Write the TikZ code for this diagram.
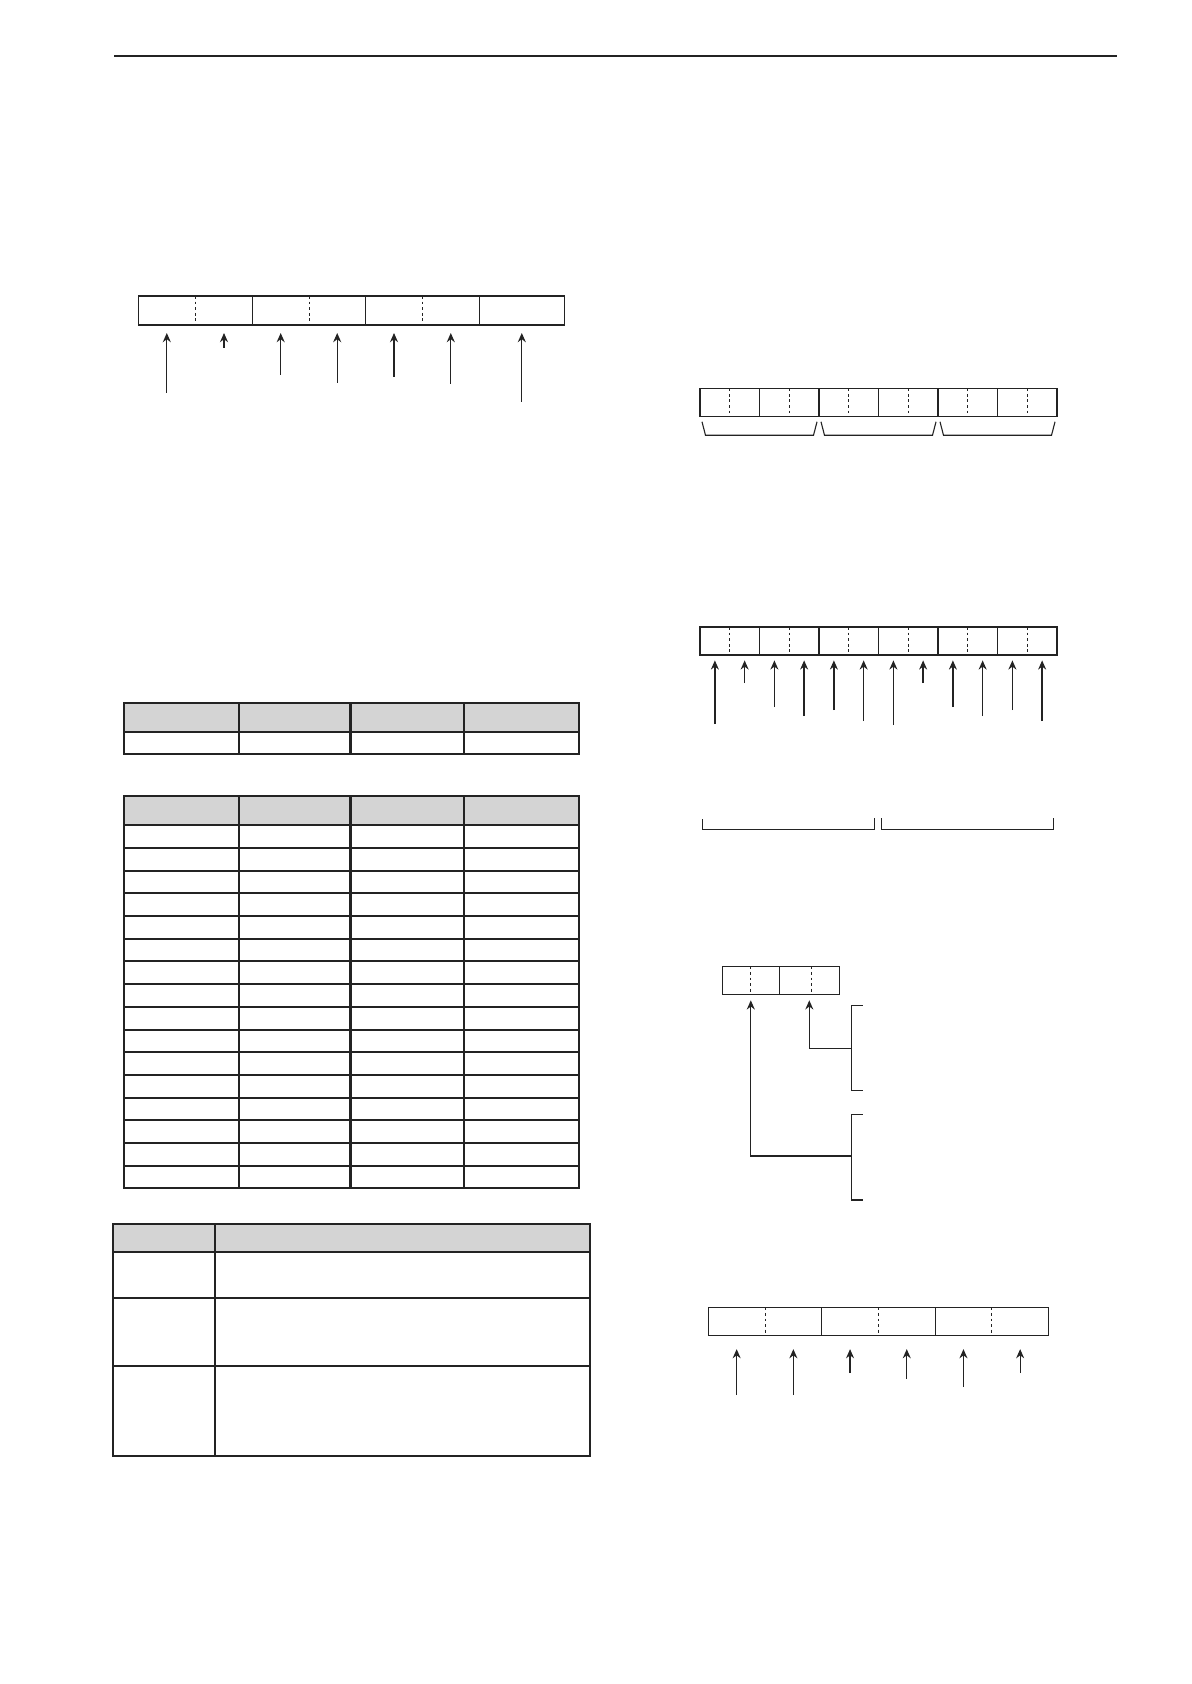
\documentclass[tikz,border=0pt]{standalone}
\usetikzlibrary{arrows.meta}
\definecolor{ink}{HTML}{232323}
\definecolor{headgray}{HTML}{D4D4D4}

\begin{document}
\begin{tikzpicture}[x=.5pt,y=-.5pt,
 reg/.style={draw=ink,line width=.55pt},
 nib/.style={minimum width=#1,minimum height=14pt,inner sep=0pt,outer sep=0pt},
 nib/.default=14.875pt,
 dotsep/.style={ink,line width=.5pt,dash pattern=on 1.4pt off 1.4pt},
 ptr/.style={-{Stealth[length=4.6pt,width=4pt]},ink,line width=.65pt,shorten >=#1},
 ptr/.default=3pt,
 rule/.style={ink,line width=1pt}]
\path[use as bounding box] (0,0) rectangle (1191,1684);
\draw[ink,line width=1.2pt] (114,56)--(1117,56);

% Register one: six nibbles and one wide cell at the end.
\foreach \i/\x in {1/166.8,2/224,3/280.7,4/337.2,5/394,6/450.8}
 \node[nib=28.5pt,minimum height=14.5pt] (a\i) at (\x,310.5) {};
\node[nib=42.5pt,minimum height=14.5pt] (a7) at (521.8,310.5) {};
\draw[reg] (a1.north west) rectangle (a7.south east);
\foreach \i in {2,4,6} \draw[reg] (a\i.north east)--(a\i.south east);
\foreach \i in {1,3,5} \draw[dotsep] (a\i.north east)--(a\i.south east);
\foreach \i/\t in {1/393,2/348,3/375,4/383,5/377,6/384,7/402} {
 \coordinate (a\i-tail) at (a\i.south |- 0,\t);
 \draw[ptr=4pt] (a\i-tail)--(a\i.south);
}

% Register two: six bytes, grouped in pairs by slanted brackets.
\foreach \i in {1,...,12}
 \node[nib] (b\i) at ({700+29.75*(\i-.5)},402.3) {};
\draw[reg] (b1.north west) rectangle (b12.south east);
\foreach \i in {2,4,...,10} \draw[reg] (b\i.north east)--(b\i.south east);
\foreach \i in {1,3,...,11} \draw[dotsep] (b\i.north east)--(b\i.south east);
\foreach \l/\r in {1/4,5/8,9/12}
 \draw[reg] ([shift={(2,5.5)}]b\l.south west) -- ++(3.5,13.5)
  -- ([shift={(-5.5,19)}]b\r.south east) -- ++(3.5,-13.5);

% Register three: one pointer per nibble.
\foreach \i in {1,...,12}
 \node[nib] (c\i) at ({700+29.75*(\i-.5)},641) {};
\draw[reg] (c1.north west) rectangle (c12.south east);
\foreach \i in {2,4,...,10} \draw[reg] (c\i.north east)--(c\i.south east);
\foreach \i in {1,3,...,11} \draw[dotsep] (c\i.north east)--(c\i.south east);
\foreach \i/\t in {1/724,2/683,3/707,4/716,5/710,6/721,7/725,8/683,9/707,10/716,11/710,12/721} {
 \coordinate (c\i-tail) at (c\i.south |- 0,\t);
 \draw[ptr=2.7pt] (c\i-tail)--(c\i.south);
}
\draw[reg] (702.3,819)|-(874.3,829.3)--(874.3,818);
\draw[reg] (881.3,818)|-(1053.3,829.3)--(1053.3,818);

% Register four: two bytes fed from the bracketed groups on the right.
\node[nib=28.5pt] (d1) at (750.8,980.3) {};
\node[nib=30pt] (d2) at (809.3,980.3) {};
\draw[reg] (d1.north west) rectangle (d2.south east);
\draw[reg] (d1.north east)--(d1.south east);
\draw[dotsep] (d1.north)--(d1.south);
\draw[dotsep] ([xshift=1pt]d2.north)--([xshift=1pt]d2.south);
\coordinate (k1) at (851.7,1048.3);
\coordinate (k2) at (851.7,1156);
\draw[reg] (862.7,1005.7)--(851.7,1005.7)--(851.7,1090.3)--(862.7,1090.3);
\draw[reg] (862.7,1114.3)--(851.7,1114.3)--(851.7,1200)--(862.7,1200);
\draw[ptr=3pt] (k1) -| (d2.south);
\draw[ptr=3pt] (k2) -| (d1.south);

% Register five: three bytes, six pointers.
\foreach \i in {1,...,6}
 \node[nib=28.35pt] (e\i) at ({708.3+56.7*(\i-.5)},1321.3) {};
\draw[reg] (e1.north west) rectangle (e6.south east);
\foreach \i in {2,4} \draw[reg] (e\i.north east)--(e\i.south east);
\foreach \i in {1,3,5} \draw[dotsep] (e\i.north east)--(e\i.south east);
\foreach \i/\t in {1/1395,2/1395,3/1373,4/1379,5/1387,6/1373} {
 \coordinate (e\i-tail) at (e\i.south |- 0,\t);
 \draw[ptr=6.9pt] (e\i-tail)--(e\i.south);
}

% Two four-column tables; the middle column rule is heavier.
\fill[headgray] (124.3,703.3) rectangle (578.7,732);
\draw[rule] (124.3,703.3) rectangle (578.7,754.3);
\draw[rule] (124.3,732)--(578.7,732);
\foreach \x in {238.7,464.3} \draw[rule] (\x,703.3)--(\x,754.3);
\draw[rule,line width=1.5pt] (350.7,703.3)--(350.7,754.3);

\fill[headgray] (124.3,796) rectangle (578.7,825.3);
\draw[rule] (124.3,796) rectangle (578.7,1188.3);
\foreach \k in {0,...,15} \draw[rule] (124.3,{825.3+22.69*\k})--(578.7,{825.3+22.69*\k});
\foreach \x in {238.7,464.3} \draw[rule] (\x,796)--(\x,1188.3);
\draw[rule,line width=1.5pt] (350.7,796)--(350.7,1188.3);

% Two-column table with tall rows.
\fill[headgray] (113.3,1224.3) rectangle (590,1252);
\draw[rule] (113.3,1224.3) rectangle (590,1455.7);
\foreach \y in {1252,1298,1366} \draw[rule] (113.3,\y)--(590,\y);
\draw[rule] (215.3,1224.3)--(215.3,1455.7);
\end{tikzpicture}
\end{document}
